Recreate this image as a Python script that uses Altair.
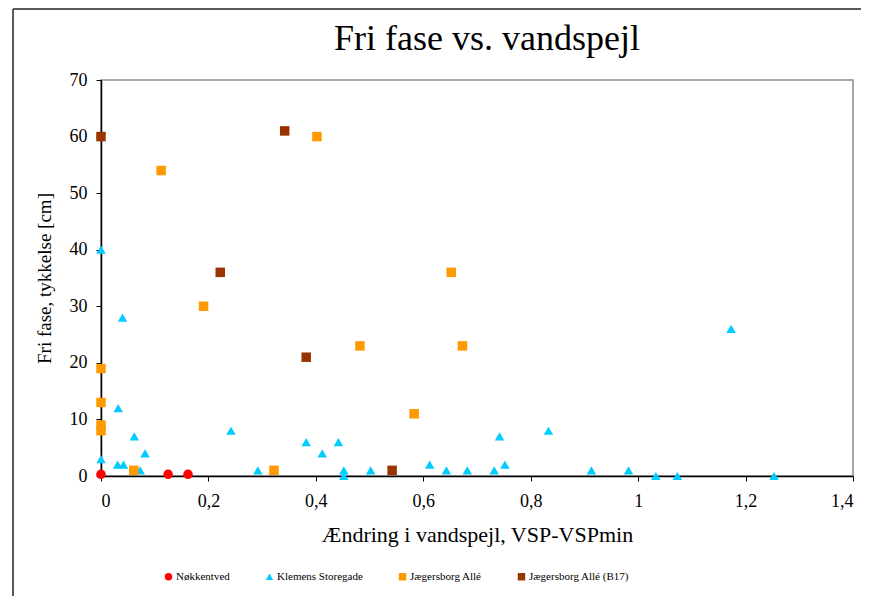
import altair as alt
import pandas as pd

series = ["Nøkkentved", "Klemens Storegade", "Jægersborg Allé", "Jægersborg Allé (B17)"]
colors = ["#FF0000", "#00CCFF", "#FF9900", "#993300"]
shapes = ["circle", "triangle-up", "square", "square"]

nok_x = [0, 0.125, 0.162]
nok_y = [0.3, 0.3, 0.3]

kle_x = [0, 0.04, 0.032, 0.062, 0.082, 0, 0.031, 0.042, 0.073, 0.242, 0.292, 0.382,
         0.412, 0.442, 0.452, 0.452, 0.502, 0.612, 0.643, 0.682, 0.732, 0.742, 0.752,
         0.833, 0.913, 0.982, 1.033, 1.073, 1.173, 1.253]
kle_y = [40, 28, 12, 7, 4, 3, 2, 2, 1, 8, 1, 6,
         4, 6, 1, 0, 1, 2, 1, 1, 1, 7, 2,
         8, 1, 1, 0, 0, 26, 0]

jae_x = [0.112, 0.402, 0.191, 0.482, 0, 0, 0, 0, 0.061, 0.322, 0.652, 0.673, 0.583]
jae_y = [54, 60, 30, 23, 19, 13, 9, 8, 1, 1, 36, 23, 11]

b17_x = [0, 0.342, 0.222, 0.382, 0.542]
b17_y = [60, 61, 36, 21, 1]

x_ticks = [0, 0.2, 0.4, 0.6, 0.8, 1.0, 1.2, 1.4]
y_ticks = [0, 10, 20, 30, 40, 50, 60, 70]

rows = []
for name, xs, ys in zip(series, [nok_x, kle_x, jae_x, b17_x], [nok_y, kle_y, jae_y, b17_y]):
    for xv, yv in zip(xs, ys):
        rows.append({"serie": name, "x": xv, "y": yv})
df = pd.DataFrame(rows)

FONT = "Liberation Serif"

leg = alt.Legend(
    title=None, orient="none", legendX=62, legendY=491, direction="horizontal",
    columns=4, columnPadding=34, symbolSize=55, symbolStrokeWidth=0,
    labelFont=FONT, labelFontSize=11, labelColor="black", labelOffset=2,
)

points = alt.Chart(df).mark_point(filled=True, opacity=1, size=90, strokeWidth=0).encode(
    x=alt.X("x:Q", scale=alt.Scale(domain=[0, 1.4], nice=False, zero=False),
            axis=alt.Axis(values=x_ticks, grid=False,
                          labelExpr="replace(format(datum.value, '~g'), '.', ',')",
                          title="Ændring i vandspejl, VSP-VSPmin", titleFontSize=22,
                          labelPadding=11, titlePadding=14)),
    y=alt.Y("y:Q", scale=alt.Scale(domain=[0, 70], nice=False, zero=False),
            axis=alt.Axis(values=y_ticks, grid=False, title="Fri fase, tykkelse [cm]",
                          titleFontSize=19, labelPadding=9, titlePadding=15)),
    color=alt.Color("serie:N", scale=alt.Scale(domain=series, range=colors), legend=leg),
    shape=alt.Shape("serie:N", scale=alt.Scale(domain=series, range=shapes), legend=leg),
    order=alt.Order("idx:Q"),
).transform_window(idx="row_number()")

frame_df = pd.DataFrame({"a": [0]})
frame_left = alt.Chart(frame_df).mark_rule(color="#595959", strokeWidth=2).encode(
    x=alt.value(-88), y=alt.value(-71), y2=alt.value(540))
frame_top = alt.Chart(frame_df).mark_rule(color="#595959", strokeWidth=2).encode(
    x=alt.value(-88), x2=alt.value(780), y=alt.value(-71))

chart = alt.layer(frame_left, frame_top, points).properties(
    width=752, height=396,
    autosize=alt.AutoSizeParams(type="none"),
    padding={"left": 93, "top": 72, "right": 8, "bottom": 120},
    title=alt.TitleParams("Fri fase vs. vandspejl", font=FONT, fontSize=36,
                          fontWeight="normal", anchor="middle", frame="group",
                          dx=10, offset=-78, baseline="alphabetic",
                          color="black"),
).configure_view(
    stroke="#8c8c8c", strokeWidth=1.5
).configure_axis(
    domainColor="black", domainWidth=1.5, tickColor="black", tickSize=5, tickWidth=1,
    labelFont=FONT, labelFontSize=18, labelColor="black",
    titleFont=FONT, titleFontWeight="normal", titleColor="black",
)

chart.save("out.html", embed_options={"renderer": "svg", "actions": False})
